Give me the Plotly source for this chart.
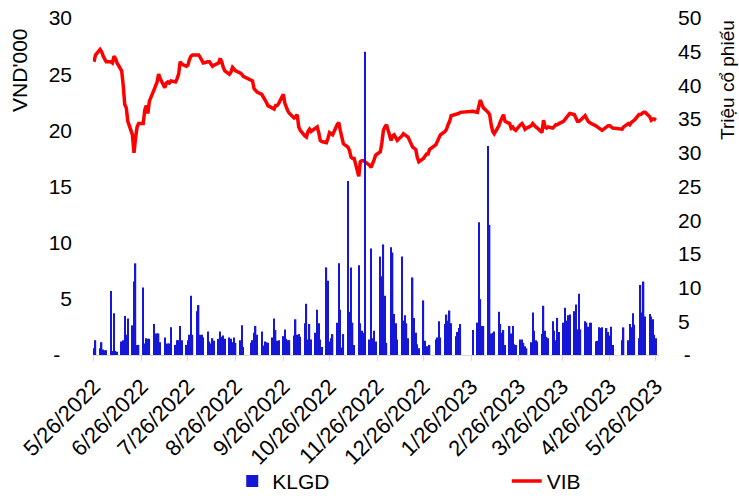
import pandas as pd
import plotly.graph_objects as go

# ---------------- data ----------------
holidays = ["2022-09-01", "2022-09-02", "2023-01-02", "2023-01-20", "2023-01-23",
            "2023-01-24", "2023-01-25", "2023-01-26", "2023-05-01", "2023-05-02", "2023-05-03"]
trade_dates = pd.bdate_range("2022-05-26", "2023-05-26", freq="C", holidays=holidays)

# VIB closing price (VND'000), by month
vib_price = (
    [26.1, 26.7, 27.2, 27.0]  # May 2022
    + [26.6, 26.3, 26.1, 26.1, 26.0, 26.6, 26.4, 26.0, 25.3, 24.0, 22.3, 22.0, 20.8, 19.6, 18.0,
       19.3, 20.3, 20.6, 20.6, 21.8, 22.2, 21.5]  # Jun
    + [22.6, 23.6, 24.0, 24.3, 25.0, 24.6, 23.8, 24.2, 24.3, 24.2, 24.4, 24.3, 24.6, 25.0, 26.1,
       25.9, 25.7, 25.8, 26.3, 26.6, 26.7]  # Jul
    + [26.7, 26.7, 26.5, 26.2, 26.0, 26.1, 26.1, 25.9, 25.7, 25.8, 26.0, 26.4, 26.1, 25.6, 25.3,
       25.0, 25.2, 25.6, 25.4, 25.3, 25.1, 25.0, 24.8]  # Aug
    + [24.5, 24.4, 23.7, 23.5, 23.4, 23.2, 23.0, 22.7, 22.5, 22.2, 22.0, 21.9, 22.2, 22.2, 22.4,
       23.2, 22.4, 22.0, 21.7, 21.5]  # Sep
    + [21.1, 21.2, 21.4, 20.3, 20.0, 19.5, 19.4, 19.9, 20.1, 19.9, 20.2, 20.3, 19.8, 19.1, 19.0,
       18.9, 19.3, 19.8, 19.7, 19.6, 20.5]  # Oct
    + [20.7, 20.0, 19.4, 18.8, 18.5, 18.2, 17.6, 17.5, 17.5, 15.9, 17.2, 17.3, 17.3, 17.2, 16.9,
       16.7, 17.0, 17.4, 17.8, 18.1, 18.9, 20.0]  # Nov
    + [20.3, 20.5, 19.1, 19.5, 19.6, 19.3, 19.1, 19.5, 19.7, 19.6, 19.5, 19.4, 18.5, 18.4, 18.3,
       17.6, 17.2, 17.5, 17.7, 17.9, 17.9, 18.3]  # Dec
    + [18.7, 19.0, 19.3, 19.6, 19.9, 20.1, 20.5, 20.8, 21.3, 21.4, 21.5, 21.5, 21.6, 21.7, 21.6,
       22.1]  # Jan 2023
    + [22.7, 22.3, 22.0, 21.6, 21.4, 20.5, 19.9, 19.7, 20.4, 20.8, 21.2, 21.4, 20.8, 20.6, 20.2,
       20.3, 20.1, 20.0, 20.5, 20.6]  # Feb
    + [20.4, 20.1, 20.2, 20.4, 20.6, 20.4, 20.3, 20.2, 19.8, 20.9, 20.3, 20.2, 20.3, 20.2, 20.4,
       20.5, 20.5, 20.6, 20.8, 21.0, 21.1, 21.3, 21.5]  # Mar
    + [21.4, 21.0, 20.8, 20.8, 20.9, 21.3, 21.0, 20.8, 20.7, 20.6, 20.4, 20.3, 20.2, 20.1, 20.0,
       20.3, 20.4, 20.4, 20.3, 20.2]  # Apr
    + [20.1, 20.3, 20.6, 20.5, 20.7, 20.8, 20.9, 21.4, 21.4, 21.5, 21.6, 21.6, 21.2, 20.9, 21.0,
       21.0, 20.9]  # May 2023
)

# KLGD traded volume (million shares), by month
klgd_volume = (
    [1.0, 2.2, 1.0, 1.9]  # May 2022
    + [0.8, 0.7, 0.7, 9.5, 0.6, 6.2, 0.6, 0.5, 2.0, 2.2, 5.8, 3.0, 5.4, 4.4, 10.9, 13.6, 1.5, 1.5,
       10.0, 1.7, 2.5, 2.4]  # Jun
    + [2.4, 4.6, 3.2, 3.2, 3.2, 1.9, 2.6, 1.7, 1.7, 1.7, 4.1, 1.5, 2.2, 2.2, 4.3, 2.2, 1.5, 2.2,
       3.0, 8.8, 3.0]  # Jul
    + [6.5, 7.4, 3.0, 3.0, 2.6, 3.5, 2.0, 1.7, 2.5, 2.1, 2.4, 3.5, 2.7, 2.9, 2.4, 2.6, 2.4, 1.9,
       2.6, 1.8, 2.2, 4.4, 1.2]  # Aug
    + [1.8, 2.2, 3.3, 4.3, 3.0, 3.5, 1.4, 2.0, 1.9, 1.8, 2.6, 5.4, 3.7, 2.1, 2.2, 2.8, 3.8, 2.4,
       2.2, 2.2]  # Sep
    + [2.9, 5.3, 3.0, 3.1, 2.7, 4.7, 7.6, 2.3, 4.6, 2.3, 3.3, 6.7, 4.7, 2.3, 1.2, 13.0, 11.0, 2.0,
       2.5, 3.1, 4.8]  # Oct
    + [13.6, 6.7, 1.1, 3.1, 25.8, 6.4, 13.0, 4.8, 1.5, 13.3, 4.7, 3.6, 3.3, 45.0, 2.3, 15.8, 2.5,
       3.6, 2.0, 14.6, 11.7, 16.4]  # Nov
    + [8.8, 1.8, 16.0, 15.2, 6.1, 4.7, 2.3, 14.6, 5.1, 5.9, 4.7, 2.5, 11.5, 5.5, 3.3, 1.6, 1.0,
       8.1, 2.1, 1.3, 1.3, 1.5]  # Dec
    + [2.3, 2.6, 5.0, 2.6, 4.6, 6.0, 5.1, 6.6, 4.7, 2.8, 3.4, 4.0, 4.6, 3.7, 4.8, 19.7]  # Jan 2023
    + [8.3, 4.3, 4.3, 31.0, 19.3, 3.2, 3.3, 3.5, 6.4, 4.6, 3.3, 3.7, 1.5, 4.3, 3.2, 4.3, 1.6, 1.5,
       2.3, 2.3]  # Feb
    + [1.8, 1.3, 1.0, 1.9, 6.3, 3.6, 2.2, 2.0, 3.1, 7.3, 3.6, 2.7, 2.5, 5.0, 3.6, 2.2, 5.5, 3.4,
       4.8, 7.0, 5.1, 5.9, 6.0]  # Mar
    + [6.5, 7.5, 3.8, 9.1, 3.8, 5.0, 4.8, 4.2, 4.8, 4.8, 2.0, 2.1, 4.1, 4.0, 4.1, 4.0, 3.4, 2.9,
       4.2, 1.5]  # Apr
    + [2.2, 4.1, 2.2, 4.6, 4.1, 6.2, 4.5, 2.5, 10.4, 6.3, 10.9, 5.7, 6.1, 5.7, 5.3, 3.0, 2.5]  # May
)

tick_dates = ["2022-05-26", "2022-06-26", "2022-07-26", "2022-08-26", "2022-09-26", "2022-10-26",
              "2022-11-26", "2022-12-26", "2023-01-26", "2023-02-26", "2023-03-26", "2023-04-26",
              "2023-05-26"]
tick_labels = ["5/26/2022", "6/26/2022", "7/26/2022", "8/26/2022", "9/26/2022", "10/26/2022",
               "11/26/2022", "12/26/2022", "1/26/2023", "2/26/2023", "3/26/2023", "4/26/2023",
               "5/26/2023"]

left_vals = [0, 5, 10, 15, 20, 25, 30]
left_text = ["-\u2007", "5", "10", "15", "20", "25", "30"]
right_vals = [0, 5, 10, 15, 20, 25, 30, 35, 40, 45, 50]
right_text = ["\u00a0-", "5", "10", "15", "20", "25", "30", "35", "40", "45", "50"]

FONT = "Liberation Sans, Arial, sans-serif"

fig = go.Figure()
fig.add_trace(go.Scatter(
    x=trade_dates, y=vib_price, name="VIB", mode="lines",
    line=dict(color="#ff0000", width=3.5), yaxis="y", legend="legend2", showlegend=True,
))
fig.add_trace(go.Bar(
    x=trade_dates, y=klgd_volume, name="KLGD",
    marker=dict(color="#1616d6", line=dict(width=0)), yaxis="y2", legend="legend",
    showlegend=True,
))

fig.update_layout(
    width=739, height=500, autosize=False,
    margin=dict(l=93, r=80, t=18, b=145, autoexpand=False),
    paper_bgcolor="white", plot_bgcolor="white",
    font=dict(family=FONT, size=21, color="black"),
    showlegend=True,
    bargap=0.1,
    xaxis=dict(
        type="date", range=["2022-05-25 09:00", "2023-05-28 00:00"],
        tickmode="array", tickvals=tick_dates, ticktext=tick_labels, tickangle=-45,
        showline=True, linecolor="#d9d9d9", linewidth=1,
        ticks="outside", tickcolor="#d9d9d9", ticklen=5,
        showgrid=False, zeroline=False, tickfont=dict(size=22), automargin=False,
        ticklabelstandoff=4,
    ),
    yaxis=dict(
        range=[0, 30], tickmode="array", tickvals=left_vals, ticktext=left_text,
        showgrid=False, zeroline=False, showline=False, ticks="",
        ticklabelstandoff=20, tickfont=dict(size=21), automargin=False,
    ),
    yaxis2=dict(
        range=[0, 50], tickmode="array", tickvals=right_vals, ticktext=right_text,
        overlaying="y", side="right",
        showgrid=False, zeroline=False, showline=False, ticks="",
        ticklabelstandoff=18, tickfont=dict(size=21), automargin=False,
    ),
    legend=dict(orientation="h", x=0.246, y=-0.375, xanchor="left", yanchor="middle",
                font=dict(size=21), bgcolor="rgba(0,0,0,0)"),
    legend2=dict(orientation="h", x=0.731, y=-0.375, xanchor="left", yanchor="middle",
                 font=dict(size=21), bgcolor="rgba(0,0,0,0)"),
    annotations=[
        dict(text="VND'000", xref="paper", yref="paper", x=-0.129, y=0.846,
             textangle=-90, showarrow=False, font=dict(size=21),
             xanchor="center", yanchor="middle"),
        dict(text="Triệu cổ phiếu", xref="paper", yref="paper", x=1.12, y=0.816,
             textangle=-90, showarrow=False, font=dict(size=19),
             xanchor="center", yanchor="middle"),
    ],
)

fig.write_html(
    "out.html",
    config={"displayModeBar": False},
    post_script="document.body.style.margin='0';document.body.style.overflow='hidden';",
)
